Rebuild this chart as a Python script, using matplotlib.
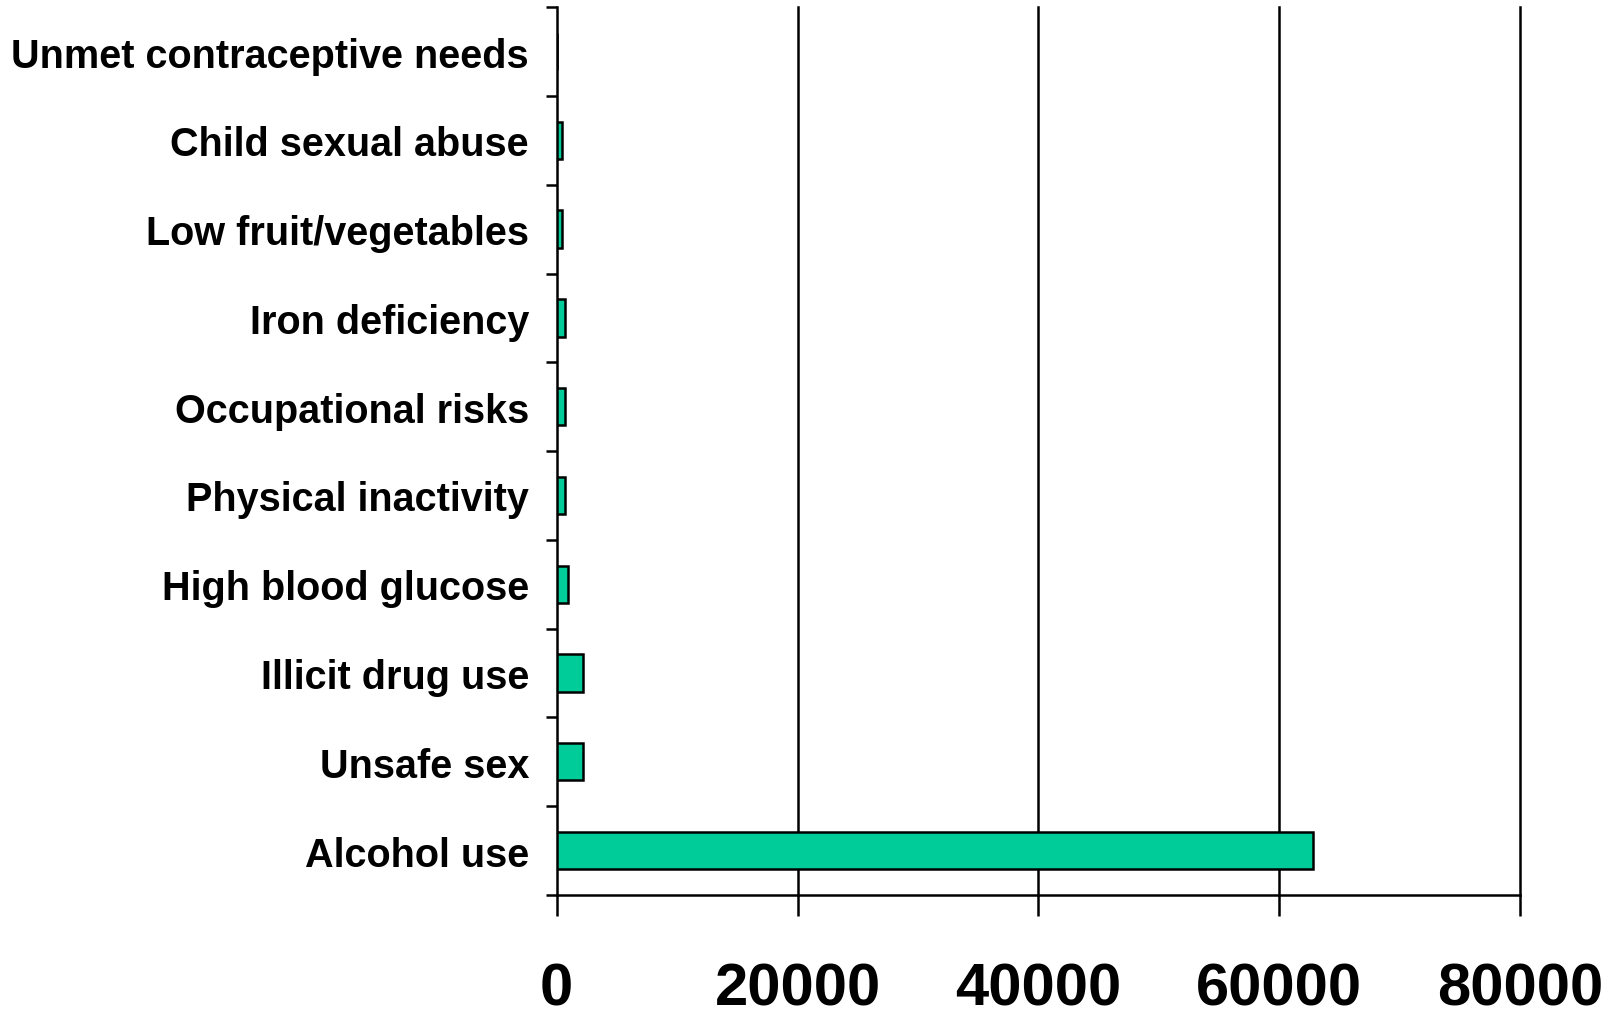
import matplotlib
matplotlib.use("Agg")
import numpy as np
import matplotlib.pyplot as plt

# risk factors, bottom to top
risks = ['Alcohol use', 'Unsafe sex', 'Illicit drug use', 'High blood glucose',
         'Physical inactivity', 'Occupational risks', 'Iron deficiency',
         'Low fruit/vegetables', 'Child sexual abuse', 'Unmet contraceptive needs']
values = [62800, 2150, 2200, 900, 720, 700, 700, 450, 470, 0]
xticks = [0, 20000, 40000, 60000, 80000]

plt.rcParams['font.family'] = ['Liberation Sans', 'DejaVu Sans']
plt.rcParams['font.weight'] = 'bold'

fig = plt.figure(figsize=(16.23, 10.20), dpi=100)
ax = fig.add_axes([0.343, 0.1216, 0.5935, 0.8704])

y = np.arange(len(risks))
ax.barh(y, values, height=0.42, color='#00CC99', edgecolor='black', linewidth=1.8, zorder=3)

ax.set_xlim(0, 80000)
ax.set_ylim(-0.5, len(risks) - 0.5)

# vertical grid lines
for v in xticks[1:]:
    ax.axvline(v, color='black', linewidth=1.8, zorder=1, clip_on=False)

ax.spines['top'].set_visible(False)
ax.spines['right'].set_visible(False)
ax.spines['left'].set_linewidth(1.8)
ax.spines['bottom'].set_linewidth(1.8)

ax.set_xticks(xticks)
ax.set_xticklabels([str(v) for v in xticks], fontsize=43, fontweight='bold')
ax.tick_params(axis='x', length=15, width=1.8, pad=33)

ax.set_yticks(y)
ax.set_yticklabels(risks, fontsize=28.5, fontweight='bold')
ax.set_yticks(np.arange(-0.5, len(risks)), minor=True)
ax.tick_params(axis='y', which='major', length=0, pad=20)
ax.tick_params(axis='y', which='minor', length=8, width=1.8)

fig.savefig('out.png', dpi=100)
